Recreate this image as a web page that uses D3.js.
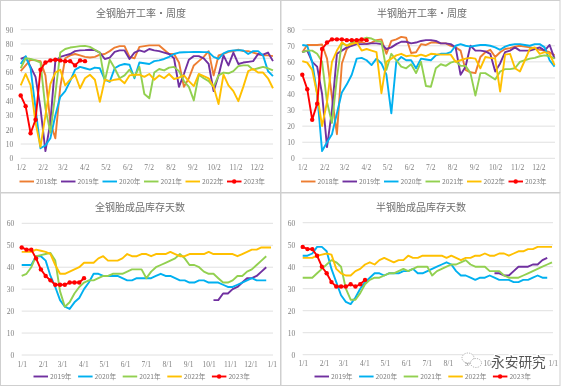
<!DOCTYPE html>
<html>
<head>
<meta charset="utf-8">
<script src="https://cdn.jsdelivr.net/npm/d3@7"></script>
<style>
  html, body { margin: 0; padding: 0; background: #fff; }
  svg { display: block; filter: blur(0.45px); }
  text { font-family: "Noto Sans CJK SC", "Noto Sans", sans-serif; fill: #7f7f7f; }
</style>
</head>
<body>
<div id="chart"></div>
<script>
const years6 = ["2018年", "2019年", "2020年", "2021年", "2022年", "2023年"];
const years5 = ["2019年", "2020年", "2021年", "2022年", "2023年"];
const weekTicks = ["1/2", "2/2", "3/2", "4/2", "5/2", "6/2", "7/2", "8/2", "9/2", "10/2", "11/2", "12/2"];
const dayTicks = ["1/1", "2/1", "3/1", "4/1", "5/1", "6/1", "7/1", "8/1", "9/1", "10/1", "11/1", "12/1", "1/1"];

// 全钢胎开工率
const allRate2018 = [61,65,69,68.5,68,58,25,14,50,70,72,73,72,71,70.5,71,72.5,73,75,77.5,78.5,78.5,71,70,78,78.5,79,79,79,76,73,73,67,50,56,65,68,71,75,58,72,73,74.5,75,76,75,75,74,73,72,72,71.5];
const allRate2019 = [69.5,71,64,57,35,5,25,68,71,72,73,75,75.5,75.7,76,75.7,74,69.5,70.5,74.5,75.5,75.5,69.5,74,75.5,74.5,76.5,75.5,75,74,73,70,50,59,69,71.5,71.5,70,66,47,58,72,65,74,66,67,67.5,68,73,72.5,74,68];
const allRate2020 = [66,71.5,63,35,7,9,14,30,43,47,54,62,64,63,62,63.5,63,55,53.5,63,65,66,65.5,56,67,66.5,66,68,68.5,69.5,71,73,74,74.2,74.3,74.4,74.4,74.3,74.3,71,69.5,73.5,75,75.5,75.6,75.5,73,75,75,72,61,57.5];
const allRate2021 = [63,70,69.5,68.5,67,35,18,45,74,76.5,77.5,78,78.5,78.7,78,76,74,54,69,63,56,58,62,57,64,45,42,60,62.5,61.5,63.5,64,61,54,50,40.5,58.5,56,54,50,58,60,59.5,61,64.5,65,65,62,63,64,63,61.5];
const allRate2022 = [51,59,51,25,8,30,52,60,62,51,55,58.5,49,56,58.5,55,39.5,55,54,55,55.5,52.5,58,58.5,58.5,57,59,55,58,56,59,55.5,56.5,58,54,50.5,59,57.5,56,50,38,58.5,51,47,40,50,61,62.5,60,60,56,49];
const allRate2023 = [44,36.5,17.5,27,62,67,68.5,69,68.5,68,68,65,68.5,68];

// 半钢胎开工率
const semiRate2018 = [66,70.5,70.5,70.5,70.8,62,38,15,59,68,71,72,72.5,71,72,73.5,74,65,73,74,75.5,75,65.5,66,71,70.5,72,72,71.5,71.5,70,69,67,55,53.5,53,63,66,67.5,63,66,68,68.5,69.5,70,69.5,69,68.5,67.5,67,66,64];
const semiRate2019 = [66,67,60,57,40,7,30,65,67,69,70,71,71,71.2,71.5,71.5,71,68,69,71,72.5,72.5,71.5,72,73,73.5,73.5,73,71.5,71.5,71,69,52,57,70,67,67,66.5,65,54,59,66,67,69,67,67,67,68,69,67,70.5,62];
const semiRate2020 = [70.5,70,60,40,4.5,10,15,28,41,46,52,62,62.5,61,58,62,59,52,28,60,63,61,61,56,62,61.5,61,64,65,65,66,70,71,70,69.5,70,70.5,70.5,70,69,67.5,69.5,70.5,71,71,70.5,70,71,71,69,61,57];
const semiRate2021 = [66,67,67,65,60,35,22,50,72,70,72,73,74,75,74.5,73,72.5,55,65,61,57,56,58.5,53,60,45,44.5,56,58.5,57.5,59.5,60.5,57.5,57.5,53,39,53,53,51,49,54,55.5,55.5,56,60,61,62,62.5,63.5,64,63.5,62];
const semiRate2022 = [60.5,59.5,55,40,20,35,60,67,72,70,71,72,67,68,67,66,40.5,60,62,64,65,63.5,64,63.5,64.5,63.5,65,64.7,64.5,64.5,64.5,60,61,62,62.5,62,56,63,62.5,62,41.5,64.5,65,56,54,61,68,69,65,66,65,58];
const semiRate2023 = [52,43,24,34,68,72,74,74,74,73.5,73.5,73.5,74,73.5];

// 全钢胎成品库存天数 (2019 starts at week 40)
const allStock2019 = [25,25,28,28,30,31,33,35,35,36,38,40];
const allStock2020 = [41,41,41,45,45,43,36,31,25,22,21,24,26,30,33,37,37,36,36,36,36,35,34,34,35,35,35,35,36,37,36,36,35,34,34,33,33,34,34,33,33,33,32,31,31,32,33,34,35,34,34,34];
const allStock2021 = [36,37,40,45,45.5,46,46.5,43,29,22,24,28,31,33,34,34,35,36,36,37,37,37,38,39,39,39,35,38,40,41,42,43,44,46,44,41,41,40,38,37,37,35,33,33,34,36,36,38,39,41,43,45];
const allStock2022 = [47,47,47,48,47.5,47,46,41,37,37,38,39,40,42,42,42,44,45,43,43,43,44,46,45,45,46,46,45,46,46,46,47,46,45,45,46,46,46,46,47,46,46,46,46,46,45,46,47,48,48,49,49,49];
const allStock2023 = [49,48,48,44,39,36,34,32,32,32,33,33,33,35];

// 半钢胎成品库存天数 (2019 starts at week 40)
const semiStock2019 = [37,37,36,36,38,40,40,40,41,41,43,44];
const semiStock2020 = [45,45,46,49,49,47,39,33,27,24,23,26,30,33,35,37,37,36,37,37,37,38,38,39,37,37,38,39,40,41,42,41,38,36,36,35,34,35,35,36,35,34,34,34,33,33,34,34,35,36,35,35];
const semiStock2021 = [35,35,35,37,39,41,43,42,40,30,25,25,28,32,34,35,35,36,37,37,38,39,38,39,40,40,40,36,38,39,40,41,41,42,43,41,40,40,40,38,38,38,36,35,35,35,36,37,38,39,40,41,42];
const semiStock2022 = [44,44,44,45,45.5,46,45.5,39,37,36,36,38,39,41,42,41,43,44,43,42,43,43,45,44,44,45,45,45,45,45,44,45,44,43,44,44,45,45,46,45,45,46,46,45,46,47,47,48,48,49,49,49,49];
const semiStock2023 = [49,48,48,45,40,37,33,31,31,31,32,31,32,34];

const colors = { "2018年": "#ed7d31", "2019年": "#7030a0", "2020年": "#00b0f0", "2021年": "#92d050", "2022年": "#ffc000", "2023年": "#ff0000" };
const W = 563, H = 387;
const day = 86400000;
const yearStart = Date.UTC(2018, 0, 1);

const svg = d3.select("#chart").append("svg").attr("width", W).attr("height", H);
svg.append("rect").attr("width", W).attr("height", H).attr("fill", "#fff");

// frames around the four pasted charts
const frames = [[0.5, 0.5, 280, 192], [281, 0.5, 279, 192], [0.5, 193, 280, 192.5], [281, 193, 279, 192.5]];
svg.selectAll(".frame").data(frames).enter().append("rect")
  .attr("class", "frame")
  .attr("x", d => d[0]).attr("y", d => d[1]).attr("width", d => d[2]).attr("height", d => d[3])
  .attr("fill", "#fff").attr("stroke", "#cfcfcf");

function drawChart(opt) {
  const g = svg.append("g");
  const x = d3.scaleUtc().domain(opt.xDomain).range(opt.xRange);
  const y = d3.scaleLinear().domain([0, opt.yMax]).range(opt.yRange);

  g.append("text").attr("x", opt.titleX).attr("y", opt.titleY).attr("text-anchor", "middle")
    .attr("font-size", 10).style("fill", "#6e6e6e").text(opt.title);

  const yAxis = d3.axisLeft(y).tickValues(d3.range(0, opt.yMax + 1, 10)).tickSize(0).tickPadding(6.5);
  const ga = g.append("g").attr("transform", `translate(${opt.xRange[0] - 1},0)`).call(yAxis);
  ga.select(".domain").remove();
  ga.selectAll("text").attr("font-size", 7.5).style("font-family", "'Liberation Serif', serif");

  g.append("g").selectAll("line").data(d3.range(0, opt.yMax + 1, 10)).enter().append("line")
    .attr("x1", opt.xRange[0]).attr("x2", opt.xEnd)
    .attr("y1", d => y(d)).attr("y2", d => y(d))
    .attr("stroke", "#e0e0e0").attr("stroke-width", 1);

  const tickDates = opt.ticks.map((t, i) => {
    const m = i === 12 ? 12 : +t.split("/")[0] - 1;
    return new Date(Date.UTC(2018, m, +t.split("/")[1]));
  });
  const xAxis = d3.axisBottom(x).tickValues(tickDates).tickSize(0).tickPadding(0)
    .tickFormat((d, i) => opt.ticks[i]);
  const gx = g.append("g").attr("transform", `translate(0,${opt.yRange[0] + 5})`).call(xAxis);
  gx.select(".domain").remove();
  gx.selectAll("text").attr("font-size", 7.5).attr("dy", "0.9em").style("font-family", "'Liberation Serif', serif");

  const line = d3.line()
    .x(d => x(new Date(yearStart + opt.start + d.week * 7 * day)))
    .y(d => y(d.value));

  opt.series.forEach(s => {
    const pts = s.values.map((v, i) => ({ week: i + (s.offset || 0), value: v }));
    g.append("path").datum(pts).attr("d", line).attr("fill", "none")
      .attr("stroke", colors[s.name]).attr("stroke-width", 1.9).attr("stroke-linejoin", "round");
    if (s.name === "2023年") {
      g.selectAll(".dot" + opt.id).data(pts).enter().append("circle").attr("class", "dot" + opt.id)
        .attr("cx", d => x(new Date(yearStart + opt.start + d.week * 7 * day)))
        .attr("cy", d => y(d.value)).attr("r", 2.2).attr("fill", colors[s.name]);
    }
  });

  // legend
  const leg = g.append("g").attr("transform", `translate(${opt.legendX},${opt.legendY})`);
  opt.series.forEach((s, i) => {
    const lx = i * opt.legendStep;
    leg.append("line").attr("x1", lx).attr("x2", lx + 14.5).attr("y1", 0).attr("y2", 0)
      .attr("stroke", colors[s.name]).attr("stroke-width", 1.9);
    if (s.name === "2023年") {
      leg.append("circle").attr("cx", lx + 7.2).attr("cy", 0).attr("r", 2.2).attr("fill", colors[s.name]);
    }
    leg.append("text").attr("x", lx + 16.5).attr("y", 2.5).attr("font-size", 6.7).text(s.name);
  });
}

drawChart({
  id: "a", title: "全钢胎开工率·周度", titleX: 141, titleY: 17, yMax: 90, yRange: [158.3, 29.7],
  xDomain: [new Date(Date.UTC(2018, 0, 2)), new Date(Date.UTC(2018, 11, 2))], xRange: [20.7, 256.7], xEnd: 273,
  ticks: weekTicks, start: day, legendX: 19.5, legendY: 181.5, legendStep: 41.5,
  series: [
    { name: years6[0], values: allRate2018 }, { name: years6[1], values: allRate2019 },
    { name: years6[2], values: allRate2020 }, { name: years6[3], values: allRate2021 },
    { name: years6[4], values: allRate2022 }, { name: years6[5], values: allRate2023 }
  ]
});
drawChart({
  id: "b", title: "半钢胎开工率·周度", titleX: 422, titleY: 17, yMax: 80, yRange: [158.3, 29.7],
  xDomain: [new Date(Date.UTC(2018, 0, 2)), new Date(Date.UTC(2018, 11, 2))], xRange: [302.3, 538.3], xEnd: 555,
  ticks: weekTicks, start: day, legendX: 301, legendY: 181.5, legendStep: 41.5,
  series: [
    { name: years6[0], values: semiRate2018 }, { name: years6[1], values: semiRate2019 },
    { name: years6[2], values: semiRate2020 }, { name: years6[3], values: semiRate2021 },
    { name: years6[4], values: semiRate2022 }, { name: years6[5], values: semiRate2023 }
  ]
});
drawChart({
  id: "c", title: "全钢胎成品库存天数", titleX: 140, titleY: 211, yMax: 60, yRange: [355, 223.3],
  xDomain: [new Date(Date.UTC(2018, 0, 1)), new Date(Date.UTC(2019, 0, 1))], xRange: [21.7, 271.7], xEnd: 273,
  ticks: dayTicks, start: 0, legendX: 33.5, legendY: 376.5, legendStep: 44.6,
  series: [
    { name: years5[0], values: allStock2019, offset: 40 }, { name: years5[1], values: allStock2020 },
    { name: years5[2], values: allStock2021 }, { name: years5[3], values: allStock2022 },
    { name: years5[4], values: allStock2023 }
  ]
});
drawChart({
  id: "d", title: "半钢胎成品库存天数", titleX: 421, titleY: 211, yMax: 60, yRange: [354.7, 222.7],
  xDomain: [new Date(Date.UTC(2018, 0, 1)), new Date(Date.UTC(2019, 0, 1))], xRange: [302.7, 552.7], xEnd: 553,
  ticks: dayTicks, start: 0, legendX: 314.5, legendY: 376.5, legendStep: 44.6,
  series: [
    { name: years5[0], values: semiStock2019, offset: 40 }, { name: years5[1], values: semiStock2020 },
    { name: years5[2], values: semiStock2021 }, { name: years5[3], values: semiStock2022 },
    { name: years5[4], values: semiStock2023 }
  ]
});

// watermark
const wm = svg.append("g");
const wmDash = "1.2 1.2";
wm.append("ellipse").attr("cx", 468).attr("cy", 358).attr("rx", 6).attr("ry", 5).attr("fill", "#fff").attr("stroke", "#999").attr("stroke-width", 0.8).attr("stroke-dasharray", wmDash);
wm.append("ellipse").attr("cx", 476).attr("cy", 363).attr("rx", 5.5).attr("ry", 4.5).attr("fill", "#fff").attr("stroke", "#999").attr("stroke-width", 0.8).attr("stroke-dasharray", wmDash);
wm.append("text").attr("x", 491).attr("y", 367).attr("font-size", 13.7)
  .attr("stroke", "#fff").attr("stroke-width", 3).attr("paint-order", "stroke")
  .style("fill", "#555").text("永安研究");
</script>
</body>
</html>
